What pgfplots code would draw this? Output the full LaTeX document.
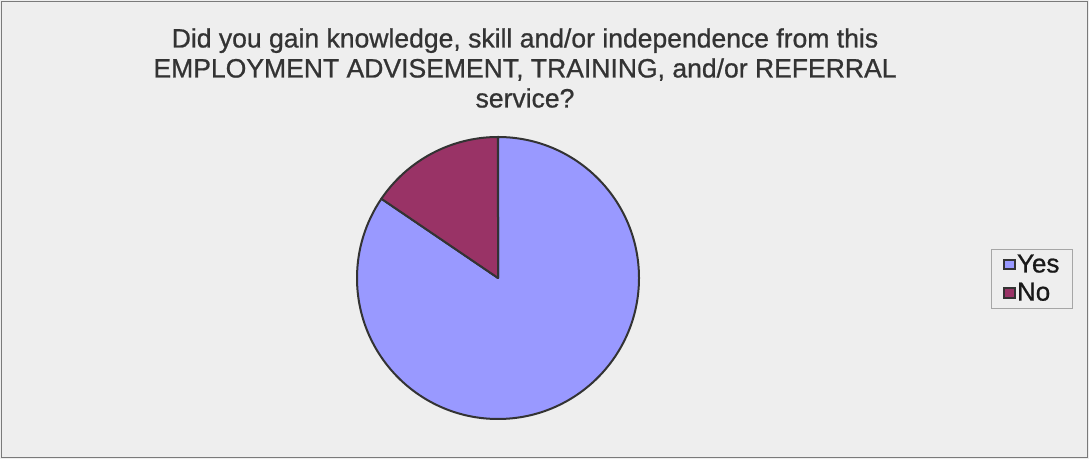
\documentclass[border=0pt]{standalone}
\usepackage{fontspec}
\setmainfont{Liberation Sans}
\newfontfamily\heavyfont[FakeBold=0.8]{Liberation Sans}
\usepackage{pgfplots}
\usepackage{pgfplotstable}
\pgfplotsset{compat=1.18}
\definecolor{bg}{HTML}{EEEEEE}
\definecolor{yescol}{HTML}{9999FF}
\definecolor{nocol}{HTML}{993366}
\definecolor{edgecol}{HTML}{333333}
\definecolor{titlecol}{HTML}{333333}
\definecolor{framecol}{HTML}{7A7A7A}

\pgfplotstableread{
label value
Yes 84.5
No 15.5
}\piedata

\begin{document}
\begin{tikzpicture}
\pgfplotstablegetelem{0}{value}\of\piedata \let\vyes\pgfplotsretval
\pgfplotstablegetelem{1}{value}\of\piedata \let\vno\pgfplotsretval
\pgfmathsetmacro{\tot}{\vyes+\vno}
\pgfmathsetmacro{\fyes}{\vyes/\tot}
\pgfmathsetmacro{\fno}{\vno/\tot}
\pgfmathsetmacro{\aone}{90-360*\fyes}
\pgfmathsetmacro{\atwo}{\aone-360*\fno}
\begin{axis}[
  x=0.75pt, y=0.75pt,
  xmin=0, xmax=1089, ymin=0, ymax=459,
  hide axis, clip=false,
  legend style={at={(axis cs:991,210)}, anchor=north west,
    draw=gray!70, fill=bg, font=\heavyfont\fontsize{19.5}{20}\selectfont,
    text=black!90, inner xsep=9pt, inner ysep=2pt,
    row sep=2.2pt,
    nodes={inner xsep=0.8pt, inner ysep=2pt},
    /tikz/every even column/.append style={column sep=0pt}},
  legend cell align=left,
  legend image code/.code={\draw[#1, line width=1.5pt, draw=edgecol] (1.2pt,-3.7pt) rectangle (9.2pt,3.7pt);},
]
\fill[bg] (axis cs:0,0) rectangle (axis cs:1089,459);
\draw[framecol, line width=1.2pt] (axis cs:1.5,1.5) rectangle (axis cs:1087.5,457.5);

\filldraw[fill=yescol, draw=edgecol, line width=1.5pt, line join=round]
  (axis cs:498,181) -- ++(90:105.75pt) arc[start angle=90, end angle=\aone, radius=105.75pt] -- cycle;
\filldraw[fill=nocol, draw=edgecol, line width=1.5pt, line join=round]
  (axis cs:498,181) -- ++(\aone:105.75pt) arc[start angle=\aone, end angle=\atwo, radius=105.75pt] -- cycle;

\addlegendimage{fill=yescol}
\addlegendentry{Yes}
\addlegendimage{fill=nocol}
\addlegendentry{No}

\node[align=center, anchor=north, inner sep=0pt, text=titlecol,
  font=\heavyfont\fontsize{19.9}{22.5}\selectfont] at (axis cs:525,431)
  {Did you gain knowledge, skill and/or independence from this\\
   EMPLOYMENT ADVISEMENT, TRAINING, and/or REFERRAL\\
   service?};
\end{axis}
\end{tikzpicture}
\end{document}
